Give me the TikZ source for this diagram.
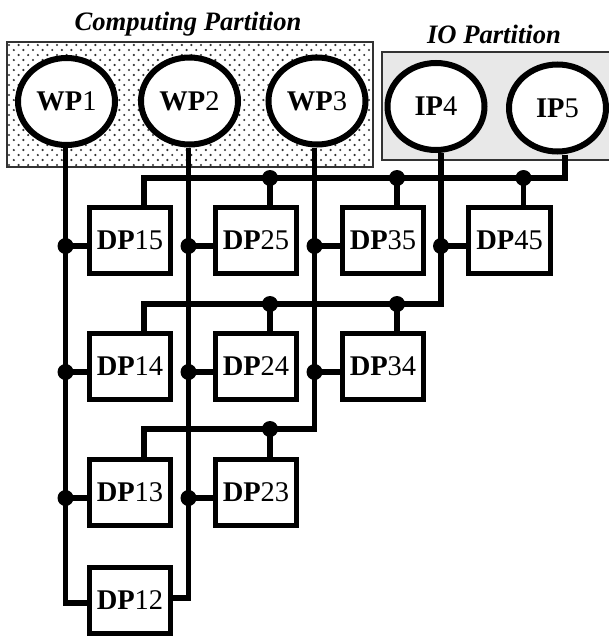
\documentclass[tikz,border=0pt]{standalone}
\usepackage{fontspec}
\setmainfont{Liberation Serif}
\usetikzlibrary{shapes.geometric}
\begin{document}
\begin{tikzpicture}[x=1pt,y=-1pt,
  proc/.style={ellipse, draw, line width=6pt, fill=white, minimum width=97pt, minimum height=87pt, inner sep=0pt, font=\fontsize{28.5}{30}\selectfont},
  dpbox/.style={rectangle, draw, line width=5pt, fill=white, minimum width=81.5pt, minimum height=66pt, inner sep=0pt, font=\fontsize{28.5}{30}\selectfont},
  wire/.style={line width=5.6pt},
  part/.style={draw=black!80, line width=1.3pt},
  title/.style={font=\fontsize{26.6}{28}\selectfont\bfseries\itshape, anchor=base, inner sep=0pt}]
\useasboundingbox (0,0) rectangle (609,637);

% partitions
\fill[white] (7,42) rectangle (373,167);
\begin{scope}
  \clip (7,42) rectangle (373,167);
  \foreach \j in {0,...,25} {
    \foreach \i in {0,...,39} {
      \pgfmathsetmacro\xx{9+\i*9.6+mod(\j,2)*4.8}
      \fill[black!80] (\xx,{45+\j*5}) circle (1.2pt);
    }
  }
\end{scope}
\draw[part] (7,42) rectangle (373,167);
\draw[part, fill=black!9] (382,52) rectangle (612,160);

\node[title] (tc) at (188,30) {Computing Partition};
\node[title] (tio) at (494,43) {IO Partition};

% processors
\node[proc] (WP1) at (66.5,101.5) {\textbf{WP}1};
\node[proc] (WP2) at (189.5,101) {\textbf{WP}2};
\node[proc] (WP3) at (317,101) {\textbf{WP}3};
\node[proc] (IP4) at (436,106.5) {\textbf{IP}4};
\node[proc] (IP5) at (557.5,108) {\textbf{IP}5};

% data partitions
\node[dpbox] (DP15) at (130,240.5) {\textbf{DP}15};
\node[dpbox] (DP25) at (256,240.5) {\textbf{DP}25};
\node[dpbox] (DP35) at (383,240.5) {\textbf{DP}35};
\node[dpbox] (DP45) at (509.5,240.5) {\textbf{DP}45};
\node[dpbox] (DP14) at (130,366.5) {\textbf{DP}14};
\node[dpbox] (DP24) at (256,366.5) {\textbf{DP}24};
\node[dpbox] (DP34) at (383,366.5) {\textbf{DP}34};
\node[dpbox] (DP13) at (130,492.5) {\textbf{DP}13};
\node[dpbox] (DP23) at (256,492.5) {\textbf{DP}23};
\node[dpbox] (DP12) at (130,600.5) {\textbf{DP}12};

% helper coordinates
\coordinate (v1) at ([xshift=-1pt]WP1.south);
\coordinate (v2) at ([xshift=-1pt]WP2.south);
\coordinate (v3) at ([xshift=-2.5pt]WP3.south);
\coordinate (v4) at ([xshift=5pt]IP4.south);
\coordinate (v5) at ([xshift=7.5pt]IP5.south);
\coordinate (b1) at (0,178);
\coordinate (b2) at (0,304);
\coordinate (b3) at (0,429);
\foreach \d in {15,25,35,45,14,24,34,13,23} {
  \coordinate (t\d) at ([xshift=14pt]DP\d.north);
  \coordinate (l\d) at ([yshift=-5.5pt]DP\d.west);
}

% main lines
\draw[wire] (v1) |- ([yshift=-2.5pt]DP12.west);
\draw[wire] (v2) |- ([yshift=2.5pt]DP12.east);
\draw[wire] (v3) |- (t13|-b3) -- (t13);
\draw[wire] (v4) |- (t14|-b2) -- (t14);
\draw[wire] (v5) |- (t15|-b1) -- (t15);

% side connections
\foreach \v/\d in {v1/15,v1/14,v1/13,v2/25,v2/24,v2/23,v3/35,v3/34,v4/45} {
  \draw[wire] (\v|-l\d) -- (l\d);
  \fill (\v|-l\d) circle (8pt);
}
% top connections
\foreach \b/\d in {b1/25,b1/35,b1/45,b2/24,b2/34,b3/23} {
  \draw[wire] (t\d|-\b) -- (t\d);
  \fill (t\d|-\b) circle (8pt);
}
\end{tikzpicture}
\end{document}
